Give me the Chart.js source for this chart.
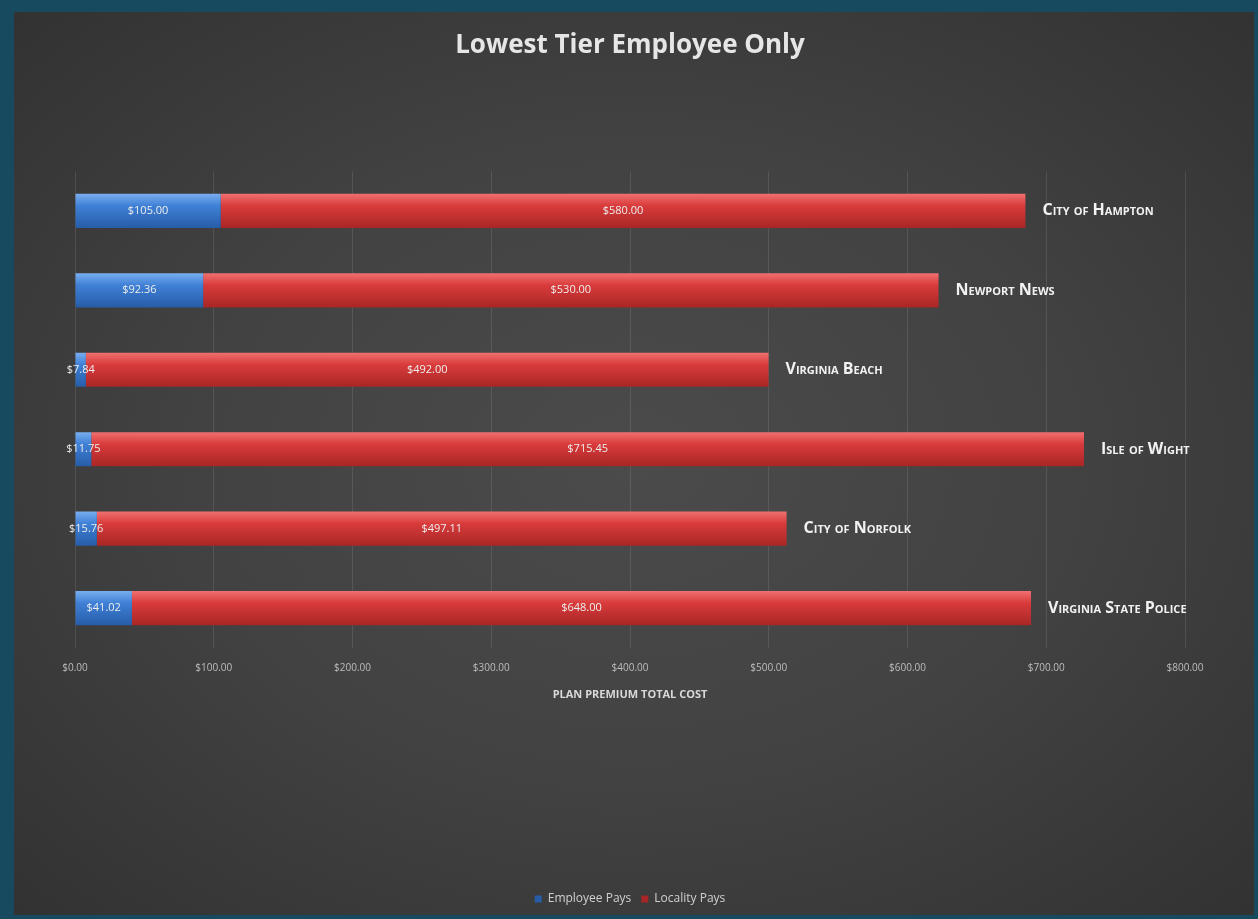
<!DOCTYPE html>
<html>
<head>
<meta charset="utf-8">
<script src="https://cdn.jsdelivr.net/npm/chart.js@4.4.0/dist/chart.umd.min.js"></script>
<style>
  html, body { margin: 0; padding: 0; }
  body { width: 1258px; height: 919px; background: #17495f; overflow: hidden; position: relative; }
  #panel {
    position: absolute; left: 14px; top: 12px; width: 1240px; height: 903px;
    background: radial-gradient(ellipse at 50% 50%, #4b4b4b 0%, #424242 50%, #323232 100%);
  }
  canvas { display: block; }
</style>
</head>
<body>
<div id="panel"><canvas id="chart" width="1240" height="903"></canvas></div>
<script>
const categories = ["City of Hampton", "Newport News", "Virginia Beach", "Isle of Wight", "City of Norfolk", "Virginia State Police"];
const employeePays = [105.00, 92.36, 7.84, 11.75, 15.76, 41.02];
const localityPays = [580.00, 530.00, 492.00, 715.45, 497.11, 648.00];
const xTicks = [0, 100, 200, 300, 400, 500, 600, 700, 800];

function money(v) {
    return "$" + v.toFixed(2);
}

// vertical gradient for the "3D" bar look
function barGradient(ctx, light, mid, dark) {
    const chart = ctx.chart;
    const y = chart.scales.y;
    if (!y || y.top === undefined) return mid;
    const c = y.getPixelForValue(ctx.dataIndex);
    const h = 17;
    const g = chart.ctx.createLinearGradient(0, c - h, 0, c + h);
    g.addColorStop(0, light);
    g.addColorStop(0.35, mid);
    g.addColorStop(1, dark);
    return g;
}

// value labels inside the segments + category names at bar end
const labelPlugin = {
    id: "barLabels",
    afterDatasetsDraw(chart) {
        const ctx = chart.ctx;
        ctx.save();
        ctx.textBaseline = "middle";
        chart.data.datasets.forEach((ds, di) => {
            const meta = chart.getDatasetMeta(di);
            meta.data.forEach((bar, i) => {
                ctx.font = "11px 'Open Sans'";
                ctx.fillStyle = "#eeeeee";
                ctx.textAlign = "center";
                ctx.fillText(money(ds.data[i]), (bar.base + bar.x) / 2, bar.y);
            });
        });
        const last = chart.getDatasetMeta(1);
        last.data.forEach((bar, i) => {
            ctx.font = "bold small-caps 16px 'Open Sans'";
            ctx.fillStyle = "#f2f2f2";
            ctx.textAlign = "left";
            ctx.fillText(categories[i], bar.x + 17, bar.y);
        });
        ctx.restore();
    }
};

new Chart(document.getElementById("chart"), {
    type: "bar",
    data: {
        labels: categories,
        datasets: [
            {
                label: "Employee Pays",
                data: employeePays,
                backgroundColor: c => barGradient(c, "#79aef0", "#3f80d6", "#275da8"),
                borderWidth: 0,
                barPercentage: 0.43,
                categoryPercentage: 1
            },
            {
                label: "Locality Pays",
                data: localityPays,
                backgroundColor: c => barGradient(c, "#f07070", "#d93b3b", "#a92626"),
                borderWidth: 0,
                barPercentage: 0.43,
                categoryPercentage: 1
            }
        ]
    },
    options: {
        indexAxis: "y",
        responsive: false,
        animation: false,
        layout: { padding: { left: 61, right: 69, top: 0, bottom: 0 } },
        scales: {
            x: {
                stacked: true,
                min: 0,
                max: 800,
                afterBuildTicks: axis => { axis.ticks = xTicks.map(v => ({ value: v })); },
                grid: { color: "rgba(255,255,255,0.10)", drawTicks: false },
                border: { display: false },
                ticks: {
                    padding: 14,
                    color: "#bdbdbd",
                    font: { family: "'Open Sans'", size: 10 },
                    callback: v => money(v)
                },
                title: {
                    display: true,
                    text: "PLAN PREMIUM TOTAL COST",
                    color: "#d9d9d9",
                    font: { family: "'Open Sans'", size: 11, weight: "bold" },
                    padding: { top: 0, bottom: 182 }
                }
            },
            y: {
                stacked: true,
                display: false
            }
        },
        plugins: {
            title: {
                display: true,
                text: "Lowest Tier Employee Only",
                color: "#e6e6e6",
                font: { family: "'Open Sans'", size: 26, weight: "bold" },
                padding: { top: 18, bottom: 110 }
            },
            legend: {
                position: "bottom",
                labels: {
                    color: "#d0d0d0",
                    font: { family: "'Open Sans'", size: 12 },
                    boxWidth: 7,
                    boxHeight: 7,
                    padding: 10
                }
            },
            tooltip: { enabled: false }
        }
    },
    plugins: [labelPlugin]
});
</script>
</body>
</html>
